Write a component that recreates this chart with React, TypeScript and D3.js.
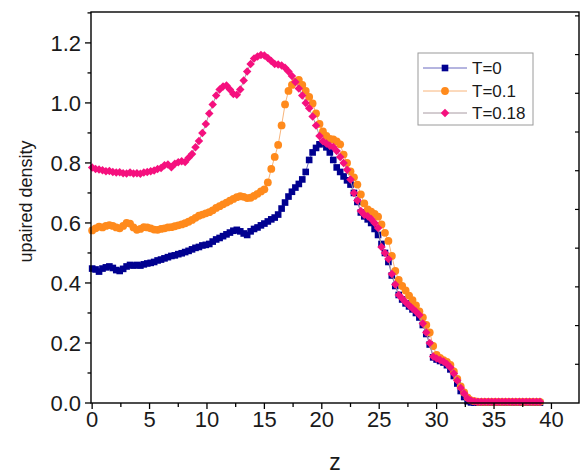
import React, { useEffect } from 'react';
import * as d3 from 'd3';

const W = 580;
const H = 474;

// z grid (sampling positions of the simulation output)
const zGrid: number[] = d3.range(131).map((i) => +(i * 0.3).toFixed(1));

const seriesNames = ['T=0', 'T=0.1', 'T=0.18'];

const valuesT0: number[] = [
  0.448, 0.445, 0.438, 0.448, 0.452, 0.455, 0.450, 0.443, 0.440, 0.447,
  0.455, 0.460, 0.458, 0.460, 0.458, 0.462, 0.465, 0.467, 0.470, 0.475,
  0.478, 0.482, 0.486, 0.490, 0.492, 0.496, 0.499, 0.503, 0.507, 0.512,
  0.517, 0.520, 0.525, 0.527, 0.530, 0.538, 0.545, 0.550, 0.556, 0.562,
  0.568, 0.574, 0.577, 0.572, 0.565, 0.560, 0.572, 0.580, 0.585, 0.592,
  0.598, 0.605, 0.612, 0.618, 0.628, 0.648, 0.668, 0.688, 0.704, 0.718,
  0.730, 0.745, 0.770, 0.810, 0.835, 0.850, 0.862, 0.866, 0.852, 0.835,
  0.810, 0.785, 0.770, 0.755, 0.742, 0.728, 0.700, 0.670, 0.635, 0.622,
  0.612, 0.600, 0.580, 0.560, 0.530, 0.500, 0.470, 0.425, 0.390, 0.360,
  0.345, 0.332, 0.322, 0.312, 0.300, 0.285, 0.260, 0.230, 0.195, 0.152,
  0.145, 0.140, 0.135, 0.126, 0.112, 0.090, 0.065, 0.040, 0.020, 0.006,
  0.002, 0.001, 0.001, 0.001, 0.001, 0.001, 0.001, 0.001, 0.001, 0.001,
  0.001, 0.001, 0.001, 0.001, 0.001, 0.001, 0.001, 0.001, 0.001, 0.001,
  0.001,
];

const valuesT01: number[] = [
  0.575, 0.582, 0.588, 0.585, 0.590, 0.593, 0.590, 0.585, 0.582, 0.590,
  0.600, 0.598, 0.585, 0.577, 0.580, 0.586, 0.585, 0.582, 0.578, 0.577,
  0.580, 0.582, 0.585, 0.586, 0.589, 0.592, 0.595, 0.599, 0.604, 0.610,
  0.617, 0.624, 0.628, 0.632, 0.636, 0.642, 0.650, 0.656, 0.662, 0.668,
  0.674, 0.680, 0.686, 0.689, 0.687, 0.683, 0.684, 0.690, 0.697, 0.705,
  0.712, 0.735, 0.780, 0.820, 0.860, 0.925, 0.995, 1.040, 1.060, 1.071,
  1.077, 1.060, 1.040, 1.020, 0.998, 0.965, 0.930, 0.905, 0.890, 0.880,
  0.878, 0.872, 0.862, 0.828, 0.800, 0.772, 0.752, 0.728, 0.695, 0.665,
  0.645, 0.638, 0.630, 0.621, 0.595, 0.567, 0.540, 0.490, 0.440, 0.410,
  0.390, 0.375, 0.358, 0.343, 0.325, 0.305, 0.285, 0.260, 0.235, 0.190,
  0.160, 0.150, 0.143, 0.137, 0.127, 0.105, 0.080, 0.055, 0.035, 0.018,
  0.009, 0.006, 0.004, 0.004, 0.004, 0.004, 0.004, 0.004, 0.004, 0.004,
  0.004, 0.004, 0.004, 0.004, 0.004, 0.004, 0.004, 0.004, 0.004, 0.004,
  0.004,
];

const valuesT018: number[] = [
  0.785, 0.780, 0.778, 0.776, 0.772, 0.773, 0.770, 0.768, 0.769, 0.766,
  0.765, 0.768, 0.765, 0.766, 0.764, 0.768, 0.770, 0.772, 0.775, 0.780,
  0.783, 0.792, 0.795, 0.786, 0.797, 0.802, 0.806, 0.803, 0.817, 0.830,
  0.852, 0.873, 0.900, 0.930, 0.965, 0.995, 1.025, 1.045, 1.055, 1.058,
  1.045, 1.030, 1.027, 1.045, 1.075, 1.105, 1.130, 1.148, 1.155, 1.160,
  1.158, 1.150, 1.140, 1.130, 1.128, 1.125, 1.117, 1.105, 1.090, 1.070,
  1.048, 1.025, 1.000, 0.982, 0.955, 0.925, 0.890, 0.872, 0.865, 0.857,
  0.853, 0.840, 0.820, 0.800, 0.777, 0.745, 0.700, 0.675, 0.640, 0.627,
  0.622, 0.613, 0.600, 0.583, 0.520, 0.500, 0.480, 0.430, 0.395, 0.360,
  0.348, 0.336, 0.325, 0.315, 0.305, 0.293, 0.265, 0.235, 0.200, 0.155,
  0.148, 0.143, 0.138, 0.130, 0.118, 0.098, 0.075, 0.050, 0.032, 0.015,
  0.008, 0.005, 0.004, 0.004, 0.004, 0.004, 0.004, 0.004, 0.004, 0.004,
  0.004, 0.004, 0.004, 0.004, 0.004, 0.004, 0.004, 0.004, 0.004, 0.004,
  0.004,
];

const xTicks = [0, 5, 10, 15, 20, 25, 30, 35, 40];
const yTicks = [0.0, 0.2, 0.4, 0.6, 0.8, 1.0, 1.2];

const FONT = 'Arial, "Liberation Sans", Helvetica, sans-serif';

const LEFT = 91;
const RIGHT = 579;
const TOP = 12;
const BOTTOM = 403;

const x = d3.scaleLinear().domain([-0.1, 42.4]).range([LEFT, RIGHT]);
const y = d3.scaleLinear().domain([0, 1.303]).range([BOTTOM, TOP]);
const yRight = d3.scaleLinear().domain([0, 10.1]).range([BOTTOM, TOP]);

const styles = [
  { marker: '#000090', line: '#6a6ac0', symbol: d3.symbolSquare, size: 44, rot: 0 },
  { marker: '#ff8a1c', line: '#f8b47a', symbol: d3.symbolCircle, size: 48, rot: 0 },
  { marker: '#f5107e', line: '#a89aa2', symbol: d3.symbolSquare, size: 36, rot: 45 },
];

export default function App() {
  useEffect(() => {
    document.body.style.margin = '0';
  }, []);

  const allSeries = [valuesT0, valuesT01, valuesT018];
  const line = d3
    .line<number>()
    .x((_, i) => x(zGrid[i]))
    .y((d) => y(d));

  const xMinor = d3.range(0, 42.5, 2.5);
  const yMinor = d3.range(0, 1.301, 0.1);
  const rightTicks = d3.range(1, 11, 1);

  const legendX = 418;
  const legendY = 53;
  const legendRows = [68, 91, 113];

  return (
    <svg
      width={W}
      height={H}
      style={{ position: 'absolute', left: 0, top: 0, background: '#fff' }}
      fontFamily={FONT}
    >
      <rect x={0} y={0} width={W} height={H} fill="#fff" />

      {/* data */}
      {allSeries.map((vals, si) => {
        const st = styles[si];
        const sym = d3.symbol().type(st.symbol).size(st.size)();
        return (
          <g key={si}>
            <path d={line(vals) || ''} fill="none" stroke={st.line} strokeWidth={1} />
            {vals.map((v, i) => (
              <path
                key={i}
                d={sym || ''}
                transform={`translate(${x(zGrid[i])},${y(v)}) rotate(${st.rot})`}
                fill={st.marker}
              />
            ))}
          </g>
        );
      })}

      {/* frame */}
      <rect
        x={LEFT}
        y={TOP}
        width={RIGHT - LEFT}
        height={BOTTOM - TOP}
        fill="none"
        stroke="#000"
        strokeWidth={1.4}
      />

      {/* x ticks */}
      {xMinor.map((t) => (
        <line
          key={'xm' + t}
          x1={x(t)}
          x2={x(t)}
          y1={BOTTOM}
          y2={BOTTOM + (t % 5 === 0 ? 6 : 4)}
          stroke="#000"
          strokeWidth={1.3}
        />
      ))}
      {xTicks.map((t) => (
        <text
          key={'xl' + t}
          x={x(t)}
          y={427}
          fontSize={22}
          textAnchor="middle"
          fill="#1a1a1a"
        >
          {t}
        </text>
      ))}

      {/* y ticks */}
      {yMinor.map((t, i) => (
        <line
          key={'ym' + i}
          x1={LEFT}
          x2={LEFT - (i % 2 === 0 ? 6 : 3.5)}
          y1={y(t)}
          y2={y(t)}
          stroke="#000"
          strokeWidth={1.3}
        />
      ))}
      {yTicks.map((t) => (
        <text
          key={'yl' + t}
          x={81}
          y={y(t) + 8}
          fontSize={22}
          textAnchor="end"
          fill="#1a1a1a"
        >
          {t.toFixed(1)}
        </text>
      ))}

      {/* right ticks */}
      {rightTicks.map((t) => (
        <line
          key={'yr' + t}
          x1={RIGHT}
          x2={RIGHT - 4}
          y1={yRight(t)}
          y2={yRight(t)}
          stroke="#000"
          strokeWidth={1.2}
        />
      ))}

      {/* axis titles */}
      <text
        transform={`translate(32,${(TOP + BOTTOM) / 2 - 6}) rotate(-90)`}
        fontSize={18}
        textAnchor="middle"
        fill="#1a1a1a"
      >
        upaired density
      </text>
      <text x={(LEFT + RIGHT) / 2} y={470} fontSize={23} textAnchor="middle" fill="#1a1a1a">
        z
      </text>

      {/* legend */}
      <rect
        x={legendX}
        y={legendY}
        width={115}
        height={72}
        fill="#fff"
        stroke="#9a9a9a"
        strokeWidth={1}
      />
      {seriesNames.map((name, i) => {
        const st = styles[i];
        const sym = d3.symbol().type(st.symbol).size(st.size)();
        const ry = legendRows[i];
        return (
          <g key={name}>
            <line x1={423} x2={467} y1={ry} y2={ry} stroke={st.line} strokeWidth={1} />
            <path d={sym || ''} transform={`translate(445,${ry}) rotate(${st.rot})`} fill={st.marker} />
            <text x={472} y={ry + 6} fontSize={17} fill="#1a1a1a">
              {name}
            </text>
          </g>
        );
      })}
    </svg>
  );
}
